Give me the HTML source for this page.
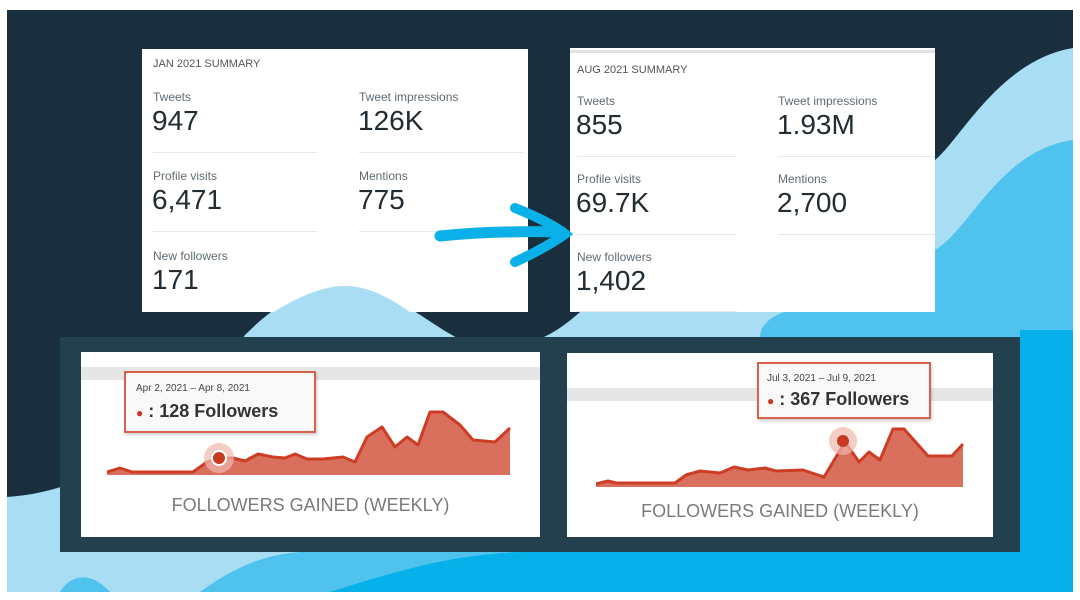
<!DOCTYPE html>
<html><head><meta charset="utf-8"><style>
*{margin:0;padding:0;box-sizing:border-box}
body{width:1080px;height:600px;background:#fff;position:relative;overflow:hidden;font-family:"Liberation Sans",sans-serif}
.abs{position:absolute}
.card{position:absolute;background:#fff}
.lbl{position:absolute;font-size:12px;color:#5f6b73;white-space:nowrap}
.num{position:absolute;font-size:28px;color:#222c33;white-space:nowrap;line-height:1}
.hd{position:absolute;font-size:11px;color:#555;white-space:nowrap}
.div{position:absolute;height:1px;background:#e3e8ea}
.chart{position:absolute;background:#fff;overflow:hidden}
.tt{position:absolute;background:#f9f9f9;border:2px solid #d9624f;box-shadow:1px 2px 3px rgba(0,0,0,.2)}
.ttl{position:absolute;font-size:10px;color:#444;white-space:nowrap}
.ttv{position:absolute;font-size:18px;font-weight:bold;color:#333;white-space:nowrap}
.cap{position:absolute;font-size:18px;color:#7a7a7a;white-space:nowrap;width:100%;text-align:center}
</style></head><body>
<svg class="abs" style="left:0;top:0" width="1080" height="600">
<rect x="7" y="10" width="1066" height="582" fill="#1a2f3d"/>
<path d="M7 497 C120 490 200 400 245 335 C285 295 315 286 345 286 C400 286 440 340 483 347 C530 352 560 330 580 312 L760 312 L760 592 L7 592 Z" fill="#a9ddf3"/>
<path d="M1073 48 C1000 60 960 140 935 160 L935 312 L760 312 L760 592 L1073 592 Z" fill="#a9ddf3"/>
<path d="M1073 140 C1000 150 970 230 935 250 L935 312 L785 312 C765 318 760 330 760 337 L1073 337 Z" fill="#4fc3ee"/>
<rect x="1020" y="330" width="53" height="262" fill="#06b0e9"/>
<path d="M200 592 C230 570 260 555 300 552 L1073 552 L1073 592 Z" fill="#4fc3ee"/>
<path d="M330 592 C400 570 450 555 520 552 L1073 552 L1073 592 Z" fill="#06b0e9"/>
<path d="M60 592 C70 575 90 570 110 592 Z" fill="#4fc3ee"/>
<rect x="60" y="337" width="960" height="215" fill="#23404e"/>
</svg>
<div class="card" style="left:142px;top:49px;width:386px;height:263px">
<div class="hd" style="left:11px;top:9px">JAN 2021 SUMMARY</div>
<div class="lbl" style="left:11px;top:41px">Tweets</div><div class="num" style="left:10px;top:58px">947</div>
<div class="lbl" style="left:217px;top:41px">Tweet impressions</div><div class="num" style="left:216px;top:58px">126K</div>
<div class="div" style="left:11px;top:103px;width:164px"></div><div class="div" style="left:217px;top:103px;width:165px"></div>
<div class="lbl" style="left:11px;top:120px">Profile visits</div><div class="num" style="left:10px;top:137px">6,471</div>
<div class="lbl" style="left:217px;top:120px">Mentions</div><div class="num" style="left:216px;top:137px">775</div>
<div class="div" style="left:11px;top:182px;width:164px"></div><div class="div" style="left:217px;top:182px;width:165px"></div>
<div class="lbl" style="left:11px;top:200px">New followers</div><div class="num" style="left:10px;top:217px">171</div>
</div>
<svg class="abs" style="left:0;top:0" width="1080" height="600">
<path d="M262 320 C290 300 320 286 345 286 C370 286 395 300 420 320 Z" fill="#a9ddf3"/>
</svg>
<div class="card" style="left:570px;top:48px;width:365px;height:264px">
<div class="abs" style="left:0;top:2px;width:365px;height:3px;background:#e2e2e2"></div>
<div class="hd" style="left:7px;top:16px">AUG 2021 SUMMARY</div>
<div class="lbl" style="left:7px;top:46px">Tweets</div><div class="num" style="left:6px;top:63px">855</div>
<div class="lbl" style="left:208px;top:46px">Tweet impressions</div><div class="num" style="left:207px;top:63px">1.93M</div>
<div class="div" style="left:7px;top:108px;width:160px"></div><div class="div" style="left:208px;top:108px;width:157px"></div>
<div class="lbl" style="left:7px;top:124px">Profile visits</div><div class="num" style="left:6px;top:141px">69.7K</div>
<div class="lbl" style="left:208px;top:124px">Mentions</div><div class="num" style="left:207px;top:141px">2,700</div>
<div class="div" style="left:7px;top:186px;width:160px"></div><div class="div" style="left:208px;top:186px;width:157px"></div>
<div class="lbl" style="left:7px;top:202px">New followers</div><div class="num" style="left:6px;top:219px">1,402</div>
<div class="div" style="left:7px;top:263px;width:160px"></div>
</div>
<svg class="abs" style="left:0;top:0" width="1080" height="600">
<path d="M440 236 C480 232 520 231 562 232" stroke="#0ab0e8" stroke-width="11" stroke-linecap="round" fill="none"/>
<path d="M515 208 C540 218 555 226 565 234 C550 245 530 255 515 262" stroke="#0ab0e8" stroke-width="10" stroke-linecap="round" fill="none"/>
</svg>
<div class="chart" style="left:81px;top:352px;width:459px;height:185px">
<div class="abs" style="left:0;top:15px;width:459px;height:13px;background:#e6e6e6"></div>
<svg class="abs" style="left:0;top:0" width="459" height="185">
<g transform="translate(-81,-352)">
<path d="M107 472 L120 468 L132 472 L193 472 L207 462 L219 458 L233 458 L245 461 L258 454 L273 457 L285 458 L295 454 L307 459 L323 459 L343 457 L355 462 L367 437 L382 427 L395 447 L407 437 L418 445 L430 412 L443 412 L460 425 L473 440 L495 442 L510 428 L510 475 L107 475 Z" fill="#d9705e"/>
<path d="M107 472 L120 468 L132 472 L193 472 L207 462 L219 458 L233 458 L245 461 L258 454 L273 457 L285 458 L295 454 L307 459 L323 459 L343 457 L355 462 L367 437 L382 427 L395 447 L407 437 L418 445 L430 412 L443 412 L460 425 L473 440 L495 442 L510 428" stroke="#cc3d24" stroke-width="3" fill="none" stroke-linejoin="round"/>
<circle cx="219" cy="458" r="15" fill="#f0b8ad" opacity=".7"/>
<circle cx="219" cy="458" r="7" fill="#c73a22" stroke="#fff" stroke-width="2"/>
</g></svg>
<div class="tt" style="left:43px;top:19px;width:192px;height:62px">
<div class="ttl" style="left:10px;top:10px">Apr 2, 2021 – Apr 8, 2021</div>
<div class="ttv" style="left:10px;top:28px"><span style="color:#c73a22;font-size:12px">●</span> : 128 Followers</div>
</div>
<div class="cap" style="top:143px">FOLLOWERS GAINED (WEEKLY)</div>
</div>
<div class="chart" style="left:567px;top:353px;width:426px;height:184px">
<div class="abs" style="left:0;top:35px;width:426px;height:13px;background:#e6e6e6"></div>
<svg class="abs" style="left:0;top:0" width="426" height="184">
<g transform="translate(-567,-353)">
<path d="M596 484 L608 481 L616 483 L675 483 L686 475 L700 471 L720 473 L734 467 L748 470 L765 468 L776 471 L803 470 L824 477 L845 442 L859 462 L869 452 L880 460 L893 429 L904 429 L928 456 L952 456 L963 444 L963 487 L596 487 Z" fill="#d9705e"/>
<path d="M596 484 L608 481 L616 483 L675 483 L686 475 L700 471 L720 473 L734 467 L748 470 L765 468 L776 471 L803 470 L824 477 L845 442 L859 462 L869 452 L880 460 L893 429 L904 429 L928 456 L952 456 L963 444" stroke="#cc3d24" stroke-width="3" fill="none" stroke-linejoin="round"/>
<circle cx="843" cy="441" r="14" fill="#f0b8ad" opacity=".7"/>
<circle cx="843" cy="441" r="6" fill="#c73a22"/>
</g></svg>
<div class="tt" style="left:190px;top:9px;width:174px;height:57px">
<div class="ttl" style="left:8px;top:9px">Jul 3, 2021 – Jul 9, 2021</div>
<div class="ttv" style="left:8px;top:25px"><span style="color:#c73a22;font-size:12px">●</span> : 367 Followers</div>
</div>
<div class="cap" style="top:148px">FOLLOWERS GAINED (WEEKLY)</div>
</div>
</body></html>
